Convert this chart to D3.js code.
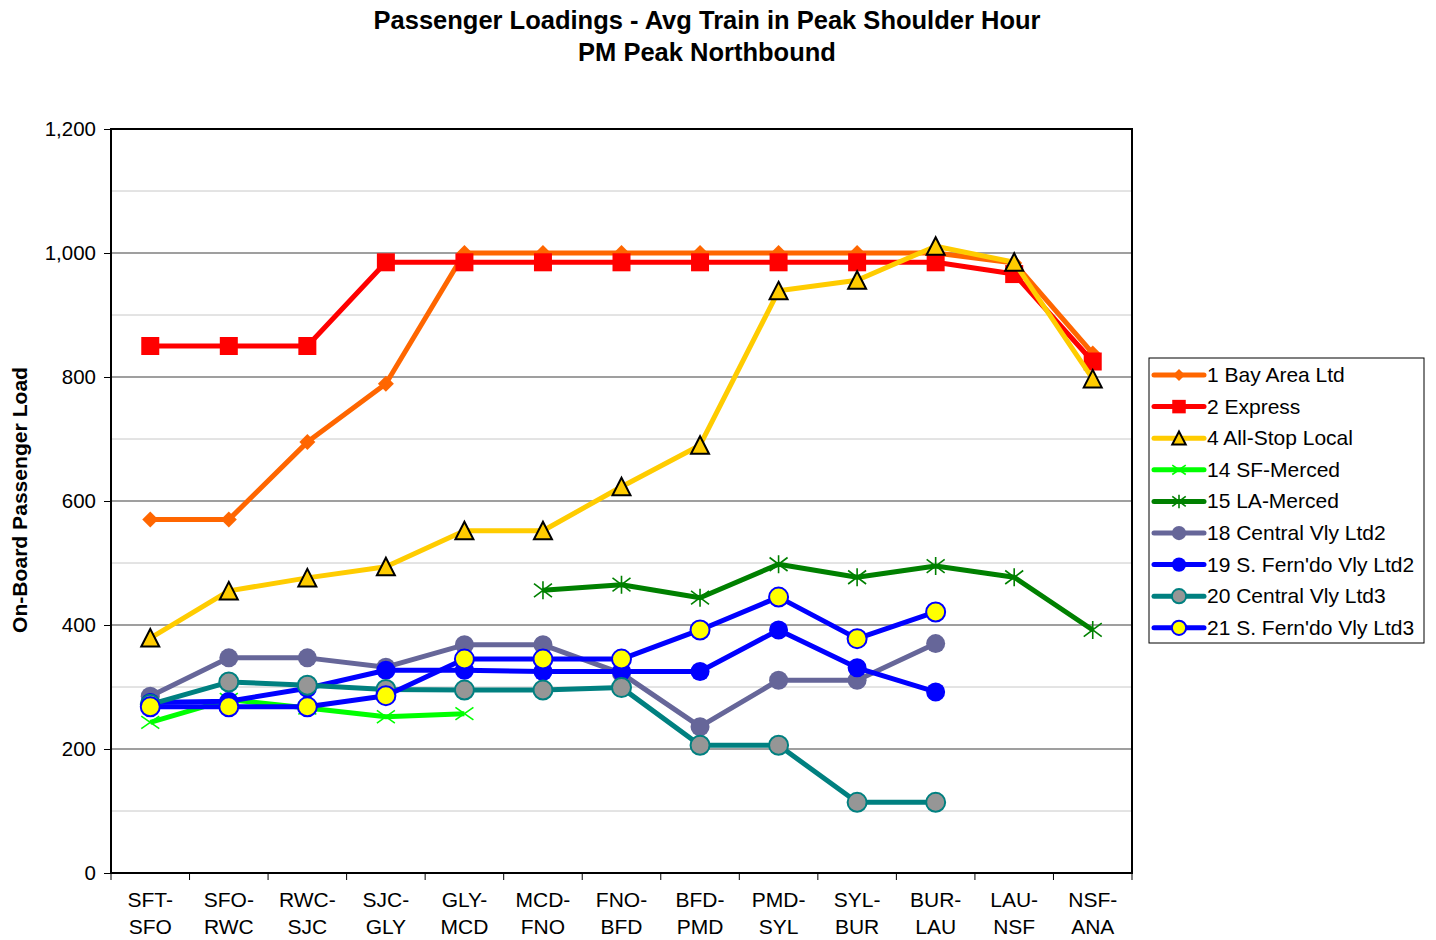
<!DOCTYPE html>
<html>
<head>
<meta charset="utf-8">
<script src="https://cdn.jsdelivr.net/npm/d3@7"></script>
<style>
  body { margin: 0; background: #fff; }
  text { font-family: "Liberation Sans", Arial, sans-serif; }
</style>
</head>
<body>
<div class="chart"></div>
<script>
var categories = ["SFT-SFO", "SFO-RWC", "RWC-SJC", "SJC-GLY", "GLY-MCD", "MCD-FNO", "FNO-BFD",
                  "BFD-PMD", "PMD-SYL", "SYL-BUR", "BUR-LAU", "LAU-NSF", "NSF-ANA"];
var yTicks = [0, 200, 400, 600, 800, 1000, 1200];

var bayAreaLtd   = [570, 570, 695, 789, 1000, 1000, 1000, 1000, 1000, 1000, 1000, 984, 838];
var express      = [850, 850, 850, 985, 985, 985, 985, 985, 985, 985, 985, 966, 825];
var allStopLocal = [379, 455, 476, 494, 552, 552, 623, 690, 939, 956, 1011, 985, 797];
var sfMerced     = [243, 280, 266, 252, 257, null, null, null, null, null, null, null, null];
var laMerced     = [null, null, null, null, null, 456, 465, 444, 498, 477, 495, 477, 392];
var cvLtd2       = [285, 347, 347, 332, 368, 368, 322, 236, 311, 311, 370, null, null];
var sfvLtd2      = [275, 277, 298, 327, 327, 325, 325, 325, 392, 331, 292, null, null];
var cvLtd3       = [272, 308, 303, 296, 295, 295, 299, 206, 206, 114, 114, null, null];
var sfvLtd3      = [268, 268, 268, 286, 345, 345, 345, 392, 445, 378, 421, null, null];

var series = [
  { name: "1 Bay Area Ltd", values: bayAreaLtd, color: "#ff6600", marker: "diamond", fill: "#ff6600", stroke: "none" },
  { name: "2 Express", values: express, color: "#ff0000", marker: "square", fill: "#ff0000", stroke: "none" },
  { name: "4 All-Stop Local", values: allStopLocal, color: "#ffcc00", marker: "triangle", fill: "#ffcc00", stroke: "#000" },
  { name: "14 SF-Merced", values: sfMerced, color: "#00ff00", marker: "x", fill: "none", stroke: "#00ff00" },
  { name: "15 LA-Merced", values: laMerced, color: "#008000", marker: "star", fill: "none", stroke: "#008000" },
  { name: "18 Central Vly Ltd2", values: cvLtd2, color: "#666699", marker: "circle", fill: "#666699", stroke: "none" },
  { name: "19 S. Fern'do Vly Ltd2", values: sfvLtd2, color: "#0000ff", marker: "circle", fill: "#0000ff", stroke: "none" },
  { name: "20 Central Vly Ltd3", values: cvLtd3, color: "#008080", marker: "circle", fill: "#969696", stroke: "#008080" },
  { name: "21 S. Fern'do Vly Ltd3", values: sfvLtd3, color: "#0000ff", marker: "circle", fill: "#ffff00", stroke: "#0000ff" }
];

var svgWidth = 1436, svgHeight = 940;
var margin = { top: 129, left: 111, right: 304, bottom: 67 };
var width = svgWidth - margin.left - margin.right;
var height = svgHeight - margin.top - margin.bottom;

var svg = d3.select(".chart").append("svg")
    .attr("width", svgWidth).attr("height", svgHeight);

// Titles
svg.append("text").attr("x", 707).attr("y", 29).attr("text-anchor", "middle")
    .style("font-size", "25.5px").style("font-weight", "bold").text("Passenger Loadings - Avg Train in Peak Shoulder Hour");
svg.append("text").attr("x", 707).attr("y", 61).attr("text-anchor", "middle")
    .style("font-size", "25.5px").style("font-weight", "bold").text("PM Peak Northbound");

var chart = svg.append("g").attr("transform", `translate(${margin.left}, ${margin.top})`);

var x = d3.scaleBand().domain(categories).range([0, width]);
var y = d3.scaleLinear().domain([0, 1200]).range([height, 0]);

// gridlines
var minor = d3.range(100, 1200, 200);
chart.selectAll(".minor").data(minor).enter().append("line")
    .attr("x1", 0).attr("x2", width)
    .attr("y1", d => y(d)).attr("y2", d => y(d))
    .attr("stroke", "#c8c8c8").attr("stroke-width", 1);
chart.selectAll(".major").data(yTicks.slice(1, -1)).enter().append("line")
    .attr("x1", 0).attr("x2", width)
    .attr("y1", d => y(d)).attr("y2", d => y(d))
    .attr("stroke", "#7f7f7f").attr("stroke-width", 1.3);

// frame
chart.append("rect").attr("width", width).attr("height", height)
    .attr("fill", "none").attr("stroke", "#000").attr("stroke-width", 2);

// y axis
var yAxis = d3.axisLeft(y).tickValues(yTicks).tickSize(7).tickPadding(8).tickFormat(d3.format(","));
var yg = chart.append("g").call(yAxis);
yg.select(".domain").remove();
yg.selectAll("text").style("font-size", "20.5px").attr("fill", "#000").style("font-family", "Liberation Sans, Arial");

// x axis: ticks at category boundaries
var bounds = d3.range(0, categories.length + 1).map(i => i * x.bandwidth());
chart.selectAll(".xtick").data(bounds).enter().append("line")
    .attr("x1", d => d).attr("x2", d => d).attr("y1", height).attr("y2", height + 7)
    .attr("stroke", "#000").attr("stroke-width", 1);
var xl = chart.selectAll(".xlab").data(categories).enter().append("text")
    .attr("x", d => x(d) + x.bandwidth() / 2)
    .attr("text-anchor", "middle").style("font-size", "21px");
xl.append("tspan").attr("x", d => x(d) + x.bandwidth() / 2).attr("y", height + 34)
    .text(d => d.split("-")[0] + "-");
xl.append("tspan").attr("x", d => x(d) + x.bandwidth() / 2).attr("y", height + 61)
    .text(d => d.split("-")[1]);

// y axis label
svg.append("text").attr("transform", "translate(27," + (margin.top + height / 2 - 1) + ") rotate(-90)")
    .attr("text-anchor", "middle").style("font-size", "21px").style("font-weight", "bold")
    .attr("textLength", 266).attr("lengthAdjust", "spacingAndGlyphs")
    .text("On-Board Passenger Load");

function drawMarker(g, s, cx, cy, scale) {
  scale = scale || 1;
  if (s.marker === "diamond") {
    var r = 8 * scale;
    g.append("path").attr("d", `M${cx},${cy - r}L${cx + r},${cy}L${cx},${cy + r}L${cx - r},${cy}Z`)
      .attr("fill", s.fill);
  } else if (s.marker === "square") {
    var h = 9 * scale;
    g.append("rect").attr("x", cx - h).attr("y", cy - h).attr("width", 2 * h).attr("height", 2 * h)
      .attr("fill", s.fill);
  } else if (s.marker === "triangle") {
    var t = 9 * scale;
    g.append("path").attr("d", `M${cx},${cy - t}L${cx + t},${cy + t * 0.95}L${cx - t},${cy + t * 0.95}Z`)
      .attr("fill", s.fill).attr("stroke", s.stroke).attr("stroke-width", 2).attr("stroke-linejoin", "miter");
  } else if (s.marker === "x") {
    var a = 9 * scale;
    g.append("path").attr("d", `M${cx - a},${cy - a * 0.7}L${cx + a},${cy + a * 0.7}M${cx - a},${cy + a * 0.7}L${cx + a},${cy - a * 0.7}`)
      .attr("stroke", s.stroke).attr("stroke-width", 1.6).attr("fill", "none");
  } else if (s.marker === "star") {
    var b = 9 * scale;
    g.append("path").attr("d", `M${cx - b},${cy - b * 0.75}L${cx + b},${cy + b * 0.75}M${cx - b},${cy + b * 0.75}L${cx + b},${cy - b * 0.75}M${cx},${cy - b}L${cx},${cy + b}`)
      .attr("stroke", s.stroke).attr("stroke-width", 1.6).attr("fill", "none");
  } else if (s.marker === "circle") {
    var c = g.append("circle").attr("cx", cx).attr("cy", cy).attr("r", 9.5 * scale).attr("fill", s.fill);
    if (s.stroke !== "none") c.attr("stroke", s.stroke).attr("stroke-width", 2);
  }
}

var line = d3.line()
    .defined(d => d != null)
    .x((d, i) => x(categories[i]) + x.bandwidth() / 2)
    .y(d => y(d));

series.forEach(function(s) {
  var g = chart.append("g");
  g.append("path").datum(s.values).attr("d", line)
    .attr("fill", "none").attr("stroke", s.color).attr("stroke-width", 5)
    .attr("stroke-linejoin", "round");
  s.values.forEach(function(v, i) {
    if (v == null) return;
    drawMarker(g, s, x(categories[i]) + x.bandwidth() / 2, y(v));
  });
});

// legend
var lg = svg.append("g").attr("transform", "translate(1149,358)");
lg.append("rect").attr("width", 275).attr("height", 285)
    .attr("fill", "#fff").attr("stroke", "#000").attr("stroke-width", 1);
series.forEach(function(s, i) {
  var cy = 17 + i * 31.6;
  var g = lg.append("g");
  g.append("line").attr("x1", 5).attr("x2", 55).attr("y1", cy).attr("y2", cy)
    .attr("stroke", s.color).attr("stroke-width", 5).attr("stroke-linecap", "round");
  drawMarker(g, s, 30, cy, 0.75);
  g.append("text").attr("x", 58).attr("y", cy + 7).style("font-size", "21px").text(s.name);
});
</script>
</body>
</html>
